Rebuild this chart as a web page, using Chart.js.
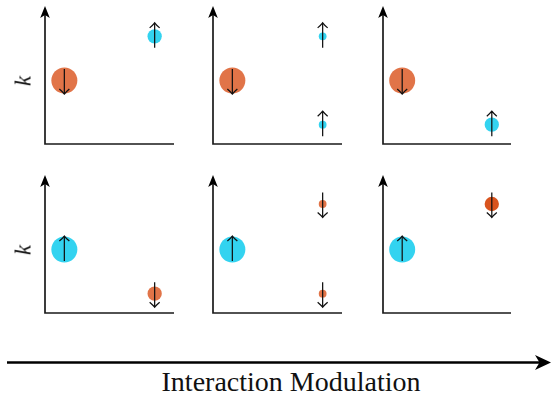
<!DOCTYPE html>
<html>
<head>
<meta charset="utf-8">
<script src="https://cdn.jsdelivr.net/npm/chart.js@4/dist/chart.umd.min.js"></script>
<style>
  html, body { margin: 0; padding: 0; background: #fff; }
  #wrap { position: relative; width: 551px; height: 398px; overflow: hidden; background: #fff; }
  canvas.panel { position: absolute; }
  .klabel { position: absolute; font-family: "Liberation Serif", "DejaVu Serif", serif; font-style: italic;
            font-size: 23px; color: #111; transform: translate(-50%, -50%) rotate(-90deg); line-height: 1; }
  #xlabel { position: absolute; left: 0; width: 582px; top: 368px; text-align: center;
            font-family: "Liberation Serif", "DejaVu Serif", serif; font-size: 28px; color: #111; line-height: 1; }
  #bigArrow { position: absolute; left: 0; top: 350px; }
</style>
</head>
<body>
<div id="wrap">
  <svg id="bigArrow" width="551" height="26">
    <line x1="7" y1="12.5" x2="542" y2="12.5" stroke="#000" stroke-width="2.6"/>
    <path d="M551 12.5 L535 5 L539.5 12.5 L535 20 Z" fill="#000"/>
  </svg>
  <div id="xlabel">Interaction Modulation</div>
</div>
<script>
// ---- data ----
// horizontal position of each orbital in a panel (arbitrary units 0..10)
const panelX = [
  [1.5, 8.5],
  [1.5, 8.5, 8.5],
  [1.5, 8.5],
  [1.5, 8.5],
  [1.5, 8.5, 8.5],
  [1.5, 8.5]
];
// k value of each orbital (0..10)
const panelK = [
  [4.6, 7.8],
  [4.6, 7.8, 1.4],
  [4.6, 1.4],
  [4.6, 1.4],
  [4.6, 7.9, 1.4],
  [4.6, 7.9]
];
// relative weight (occupation) of each orbital
const panelWeight = [
  [1.0, 0.55],
  [1.0, 0.3, 0.3],
  [1.0, 0.55],
  [1.0, 0.55],
  [1.0, 0.3, 0.3],
  [1.0, 0.55]
];
// spin direction of each orbital
const panelSpin = [
  ['down', 'up'],
  ['down', 'up', 'up'],
  ['down', 'up'],
  ['up', 'down'],
  ['up', 'down', 'down'],
  ['up', 'down']
];
const yAxisLabel = 'k';
const xAxisLabel = 'Interaction Modulation';

// ---- layout / style ----
const colAxisX = [45, 213, 383];
const colAxisEnd = [174, 342, 511];
const rowAxisTop = [6, 175];
const rowAxisBottom = [144, 313];
const PAD = { left: 14, right: 14, top: 2, bottom: 14 };
const MAX_R = 13;
const colorUp = 'rgb(51,211,240)';
const colorDown = 'rgb(225,116,72)';
const colorDownStrong = 'rgb(217,84,30)';

const axesPlugin = {
  id: 'arrowAxes',
  beforeDatasetsDraw(chart) {
    const { ctx, chartArea: a } = chart;
    ctx.save();
    ctx.strokeStyle = '#1a1a1a';
    ctx.fillStyle = '#000';
    ctx.lineWidth = 1.7;
    ctx.lineCap = 'butt';
    ctx.beginPath();
    ctx.moveTo(a.left, a.top + 8);
    ctx.lineTo(a.left, a.bottom);
    ctx.lineTo(a.right, a.bottom);
    ctx.stroke();
    // stealth head at top of y axis
    ctx.beginPath();
    ctx.moveTo(a.left, a.top);
    ctx.lineTo(a.left - 4.8, a.top + 12);
    ctx.lineTo(a.left, a.top + 9);
    ctx.lineTo(a.left + 4.8, a.top + 12);
    ctx.closePath();
    ctx.fill();
    ctx.restore();
  }
};

const spinPlugin = {
  id: 'spinArrows',
  afterDatasetsDraw(chart) {
    const { ctx } = chart;
    chart.data.datasets.forEach((ds, di) => {
      const meta = chart.getDatasetMeta(di);
      meta.data.forEach((el, i) => {
        const dir = ds.spin[i];
        const x = el.x, y = el.y;
        const s = dir === 'up' ? -1 : 1;
        const tipY = y + s * 13.5;
        const tailY = y - s * 11.5;
        ctx.save();
        ctx.strokeStyle = '#111';
        ctx.lineWidth = 1.25;
        ctx.beginPath();
        ctx.moveTo(x, tailY);
        ctx.lineTo(x, tipY);
        ctx.stroke();
        ctx.beginPath();
        ctx.moveTo(x - 5, tipY - s * 5);
        ctx.quadraticCurveTo(x - 1.5, tipY - s * 2, x, tipY);
        ctx.quadraticCurveTo(x + 1.5, tipY - s * 2, x + 5, tipY - s * 5);
        ctx.stroke();
        ctx.restore();
      });
    });
  }
};

const wrap = document.getElementById('wrap');

for (let p = 0; p < 6; p++) {
  const col = p % 3, row = Math.floor(p / 3);
  const ax = colAxisX[col], ae = colAxisEnd[col];
  const at = rowAxisTop[row], ab = rowAxisBottom[row];
  const cv = document.createElement('canvas');
  cv.className = 'panel';
  const w = (ae - ax) + PAD.left + PAD.right;
  const h = (ab - at) + PAD.top + PAD.bottom;
  cv.width = w; cv.height = h;
  cv.style.left = (ax - PAD.left) + 'px';
  cv.style.top = (at - PAD.top) + 'px';
  cv.style.width = w + 'px';
  cv.style.height = h + 'px';
  wrap.appendChild(cv);

  const pts = panelX[p].map((x, i) => ({ x: x, y: panelK[p][i] }));
  const spins = panelSpin[p];
  const colors = spins.map((s, i) => {
    if (s === 'up') return colorUp;
    return (p === 5 && i > 0) ? colorDownStrong : colorDown;
  });

  new Chart(cv, {
    type: 'scatter',
    data: {
      datasets: [{
        data: pts,
        spin: spins,
        pointRadius: panelWeight[p].map(wt => wt * MAX_R),
        pointHoverRadius: panelWeight[p].map(wt => wt * MAX_R),
        backgroundColor: colors,
        pointBorderWidth: 0,
        borderWidth: 0,
        clip: false
      }]
    },
    options: {
      responsive: false,
      animation: false,
      devicePixelRatio: 1,
      events: [],
      layout: { padding: PAD, autoPadding: false },
      plugins: { legend: { display: false }, tooltip: { enabled: false } },
      scales: {
        x: { type: 'linear', display: false, min: 0, max: 10 },
        y: { type: 'linear', display: false, min: 0, max: 10 }
      }
    },
    plugins: [axesPlugin, spinPlugin]
  });

  if (col === 0) {
    const k = document.createElement('div');
    k.className = 'klabel';
    k.textContent = yAxisLabel;
    k.style.left = '23px';
    k.style.top = (ab - (ab - at) * 0.46) + 'px';
    wrap.appendChild(k);
  }
}
document.getElementById('xlabel').textContent = xAxisLabel;
</script>
</body>
</html>
